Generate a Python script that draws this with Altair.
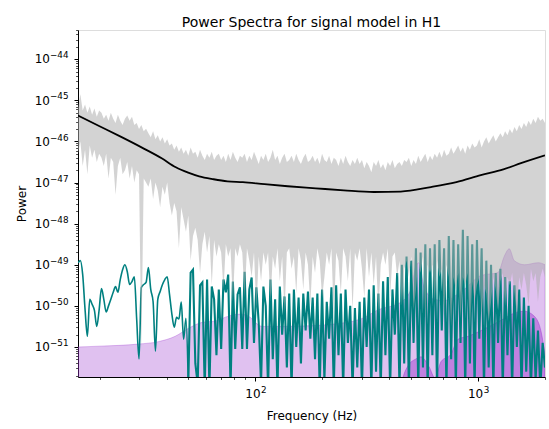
import altair as alt
import numpy as np
import pandas as pd

# ---------------- data (log10 of power, frequencies in Hz) ----------------
F_MIN, F_MAX = 16.0, 2000.0
N_BINS = 200

# measured periodogram (grey): upper and lower envelope per frequency bin
gray_upper = [
    -45.2, -44.85, -45.25, -45.1, -45.3, -45.15, -45.35, -45.2, -45.4, -45.25,
    -45.3, -45.45, -45.35, -45.5, -45.3, -45.45, -45.55, -45.35, -45.5, -45.6,
    -45.45, -45.37, -45.5, -45.4, -45.6, -45.55, -45.7, -45.6, -45.75, -45.69,
    -45.8, -45.9, -45.75, -45.95, -45.85, -46.0, -45.9, -46.05, -45.95, -46.1,
    -46.05, -46.2, -46.1, -46.25, -46.15, -46.3, -46.2, -46.35, -46.15, -46.3,
    -46.25, -46.4, -46.2, -46.35, -46.45, -46.3, -46.4, -46.25, -46.45, -46.35,
    -46.3, -46.45, -46.35, -46.5, -46.3, -46.45, -46.25, -46.4, -46.5, -46.35,
    -46.4, -46.3, -46.5, -46.35, -46.45, -46.25, -46.4, -46.55, -46.35, -46.45,
    -46.3, -46.5, -46.4, -46.2, -46.45, -46.35, -46.55, -46.4, -46.3, -46.5,
    -46.45, -46.35, -46.5, -46.3, -46.45, -46.55, -46.4, -46.3, -46.5, -46.45,
    -46.35, -46.5, -46.4, -46.55, -46.3, -46.45, -46.5, -46.35, -46.55, -46.4,
    -46.45, -46.6, -46.4, -46.55, -46.35, -46.5, -46.6, -46.45, -46.55, -46.4,
    -46.55, -46.45, -46.65, -46.5, -46.6, -46.75, -46.5, -46.6, -46.45, -46.65,
    -46.55, -46.7, -46.5, -46.6, -46.45, -46.65, -46.55, -46.5, -46.6, -46.45,
    -46.5, -46.4, -46.6, -46.45, -46.55, -46.35, -46.5, -46.4, -46.3, -46.5,
    -46.35, -46.45, -46.3, -46.4, -46.25, -46.4, -46.2, -46.35, -46.3, -46.15,
    -46.3, -46.2, -46.1, -46.25, -46.15, -46.3, -46.1, -46.2, -46.05, -46.15,
    -46.1, -45.95, -46.15, -46.0, -45.9, -46.05, -45.95, -45.85, -46.0, -45.9,
    -45.8, -45.9, -45.75, -45.85, -45.7, -45.8, -45.65, -45.75, -45.6, -45.7,
    -45.55, -45.65, -45.5, -45.6, -45.45, -45.55, -45.4, -45.5, -45.45, -45.55,
]
gray_lower = [
    -46.3, -46.0, -46.6, -46.2, -46.8, -46.1, -46.4, -46.2, -46.5, -46.3,
    -46.4, -46.6, -46.3, -46.9, -46.4, -46.5, -47.3, -46.6, -46.4, -46.8,
    -46.7, -46.5, -46.9, -46.6, -47.0, -46.7, -46.8, -51.05, -46.9, -47.0,
    -47.1, -46.9, -47.4, -47.0, -47.2, -47.6, -47.1, -47.3, -47.0, -47.5,
    -47.8, -47.5, -47.7, -48.6, -47.6, -47.9, -48.2, -47.8, -48.9, -48.3,
    -48.1, -48.4, -49.2, -48.5, -48.2, -48.7, -48.3, -49.5, -48.4, -48.8,
    -48.5, -48.7, -49.6, -48.5, -48.8, -48.6, -49.9, -48.6, -48.8, -48.5,
    -48.7, -49.8, -48.6, -48.9, -49.3, -48.7, -50.1, -48.8, -49.4, -48.7,
    -49.0, -48.7, -49.9, -48.8, -49.1, -48.6, -49.4, -48.8, -50.2, -48.7,
    -48.6, -49.1, -48.8, -49.7, -48.6, -48.9, -49.6, -48.7, -49.0, -50.0,
    -48.8, -49.2, -48.6, -48.9, -49.8, -49.3, -48.7, -49.0, -48.6, -50.3,
    -48.7, -48.9, -49.7, -48.6, -48.8, -49.4, -48.6, -50.1, -48.7, -48.9,
    -48.6, -49.1, -49.8, -48.6, -49.3, -48.7, -49.5, -48.8, -50.2, -49.0,
    -48.7, -49.0, -48.6, -49.8, -48.8, -48.7, -49.3, -48.9, -50.0, -49.1,
    -48.9, -49.3, -48.8, -50.1, -49.6, -48.9, -49.2, -48.8, -50.3, -49.0,
    -49.2, -49.0, -49.9, -48.9, -49.3, -49.1, -50.2, -49.0, -49.3, -50.5,
    -49.3, -49.6, -49.2, -50.3, -49.3, -49.5, -49.2, -50.6, -49.4, -49.9,
    -49.5, -49.3, -50.2, -49.5, -49.7, -50.4, -49.9, -49.3, -49.6, -50.1,
    -49.4, -49.2, -50.0, -49.3, -49.5, -49.2, -49.7, -50.2, -49.3, -49.6,
    -49.2, -49.5, -50.0, -49.1, -49.4, -49.2, -49.9, -49.3, -49.1, -49.3,
]

# signal model (teal), one value per frequency bin
teal_log10 = [
    -48.95, -48.9, -49.24, -50.08, -50.74, -49.84, -49.96, -50.11, -50.5, -50.1,
    -49.58, -49.84, -50.15, -50.0, -49.84, -49.67, -49.53, -49.67, -49.36, -49.12,
    -49.0, -49.17, -49.48, -49.41, -49.29, -50.32, -51.29, -49.55, -49.48, -49.43,
    -49.07, -49.6, -49.9, -51.1, -49.84, -49.65, -49.48, -49.36, -49.29, -49.72,
    -50.2, -50.52, -50.28, -50.32, -49.91, -50.81, -50.3, -51.9, -49.19, -49.12,
    -51.4, -51.9, -49.5, -49.43, -52.0, -49.36, -52.0, -49.53, -49.84, -51.2,
    -49.6, -51.05, -49.36, -49.67, -49.24, -52.0, -49.41, -51.05, -49.72, -49.55,
    -51.05, -49.17, -51.05, -49.6, -49.31, -50.9, -49.55, -50.4, -51.9, -49.53,
    -50.0, -52.0, -49.36, -51.3, -49.84, -52.0, -49.53, -50.7, -49.77, -51.5,
    -49.7, -52.0, -49.6, -51.0, -49.8, -51.4, -49.7, -50.6, -49.65, -50.8,
    -49.8, -51.3, -49.7, -52.0, -49.6, -51.8, -49.9, -50.8, -49.55, -52.0,
    -49.5, -51.2, -49.7, -52.0, -49.6, -50.9, -50.0, -52.0, -50.05, -51.5,
    -49.9, -52.0, -49.8, -51.0, -49.6, -52.0, -49.5, -51.6, -49.7, -52.0,
    -49.4, -51.2, -49.3, -52.0, -49.6, -50.7, -49.2, -52.0, -49.0, -51.4,
    -48.8, -52.0, -48.9, -50.9, -48.6, -52.0, -48.7, -51.5, -48.5, -52.0,
    -48.6, -51.2, -48.5, -52.0, -48.4, -50.6, -48.6, -52.0, -48.3, -51.3,
    -48.4, -52.0, -48.5, -50.9, -48.15, -52.0, -48.3, -51.4, -48.5, -52.0,
    -48.4, -50.8, -48.6, -52.0, -48.9, -51.5, -49.0, -52.0, -49.2, -50.9,
    -49.1, -52.0, -49.3, -51.2, -49.4, -52.0, -49.5, -51.0, -49.6, -52.0,
    -49.8, -51.6, -50.0, -52.0, -50.3, -51.8, -50.6, -52.0, -50.9, -51.5,
]
TEAL_SMOOTH_BINS = 48   # low-frequency part of the model is a smooth curve

psd_freq = [16, 20, 25, 31, 38, 44, 50, 56, 65, 75, 88, 110, 140, 187, 250,
            340, 450, 615, 800, 1030, 1300, 1560, 2000]
psd_log10 = [-45.37, -45.63, -45.89, -46.15, -46.41, -46.63, -46.76, -46.85,
             -46.92, -46.97, -46.99, -47.04, -47.09, -47.14, -47.19, -47.23,
             -47.22, -47.11, -46.99, -46.82, -46.68, -46.53, -46.34]

band_freq = [16, 20, 29.8, 36.7, 43.7, 50, 57.9, 66.2, 75.7, 85.8, 95.1, 100,
             107.7, 123.3, 160, 218, 298, 355, 451, 500, 526, 543, 572, 634,
             703, 866, 1033, 1230, 1316, 1382, 1456, 1620, 1869, 2000]
band_log10 = [-51.0, -50.98, -50.93, -50.87, -50.74, -50.55, -50.40, -50.37,
              -50.25, -50.2, -50.28, -50.4, -50.5, -50.5, -50.49, -50.45,
              -50.32, -50.1, -49.91, -49.6, -49.04, -48.95, -49.53, -49.84,
              -49.87, -49.6, -49.26, -49.19, -48.78, -48.61, -48.9, -49.0,
              -48.95, -49.0]

core_freq = [440, 451, 485, 527, 555, 603, 641, 682, 757, 814, 903, 1033,
             1271, 1485, 1613, 1789, 1923, 2000]
core_log10 = [-52.5, -52.0, -51.46, -51.29, -51.24, -51.48, -51.75, -51.36,
              -51.17, -50.81, -50.74, -50.6, -50.35, -50.16, -50.13, -50.25,
              -50.64, -51.2]

# tick labels  (10 with a raised exponent)
x_label_freq = [100, 1000]
x_label_exp = ["2", "3"]
y_label_pos = [-44, -45, -46, -47, -48, -49, -50, -51]
y_label_exp = ["−44", "−45", "−46", "−47", "−48", "−49", "−50", "−51"]

Y_MIN, Y_MAX = -51.73, -43.29
FILL_BASE = -53.0

# ---------------- frames ----------------
freq = np.geomspace(F_MIN, F_MAX, N_BINS)
lf = np.log10(freq)
df_gray = pd.DataFrame({"lf": lf, "lp": gray_upper, "lo": gray_lower})
df_teal = pd.DataFrame({"lf": lf, "lp": teal_log10})
df_teal_lo = df_teal.iloc[:TEAL_SMOOTH_BINS]
df_teal_hi = df_teal.iloc[TEAL_SMOOTH_BINS - 1:]
df_psd = pd.DataFrame({"lf": np.log10(psd_freq), "lp": psd_log10})
df_band = pd.DataFrame({"lf": np.log10(band_freq), "lp": band_log10})
df_core = pd.DataFrame({"lf": np.log10(core_freq), "lp": core_log10})
df_xlab = pd.DataFrame({"lf": np.log10(x_label_freq), "base": "10", "exp": x_label_exp})
df_ylab = pd.DataFrame({"lp": y_label_pos, "base": "10", "exp": y_label_exp})

# tick positions (major decades + minor 2..9)
x_ticks = []
for n in (1, 2, 3):
    for k in range(1, 10):
        f = k * 10 ** n
        if F_MIN <= f <= F_MAX:
            x_ticks.append(float(np.log10(f)))
y_ticks = []
for n in range(-52, -43):
    for k in range(1, 10):
        v = n + float(np.log10(k))
        if Y_MIN <= v <= Y_MAX:
            y_ticks.append(v)

MAJOR = "abs(datum.value - round(datum.value)) < 0.001"
FONT = "DejaVu Sans"

tick_size = {"condition": {"test": MAJOR, "value": 4}, "value": 2.4}
tick_width = {"condition": {"test": MAJOR, "value": 1}, "value": 0.7}

x_axis = alt.Axis(values=x_ticks, labels=False, tickSize=tick_size, tickWidth=tick_width,
                  tickColor="black", domainColor="black", domainWidth=1, grid=False,
                  title="Frequency (Hz)", titleFont=FONT, titleFontSize=12,
                  titleFontWeight="normal", titleColor="black",
                  titleBaseline="alphabetic", titleY=42)
y_axis = alt.Axis(values=y_ticks, labels=False, tickSize=tick_size, tickWidth=tick_width,
                  tickColor="black", domainColor="black", domainWidth=1, grid=False,
                  title="Power", titleFont=FONT, titleFontSize=12,
                  titleFontWeight="normal", titleColor="black",
                  titleBaseline="alphabetic", titleX=-52.5, titleAngle=-90)

X = alt.X("lf:Q", scale=alt.Scale(domain=[float(np.log10(F_MIN)), float(np.log10(F_MAX))],
                                   nice=False, zero=False), axis=x_axis)
Y = alt.Y("lp:Q", scale=alt.Scale(domain=[Y_MIN, Y_MAX], nice=False, zero=False), axis=y_axis)

ORCHID = "#9932cc"

band = alt.Chart(df_band).mark_area(
    clip=True, interpolate="monotone", fill=ORCHID, fillOpacity=0.3,
    stroke=ORCHID, strokeOpacity=0.3, strokeWidth=1
).encode(x=X, y=Y, y2=alt.datum(FILL_BASE))

core = alt.Chart(df_core).mark_area(
    clip=True, interpolate="monotone", fill=ORCHID, fillOpacity=0.45,
    stroke=ORCHID, strokeOpacity=0.45, strokeWidth=1
).encode(x=X, y=Y, y2=alt.datum(FILL_BASE))

teal_lo = alt.Chart(df_teal_lo).mark_line(
    clip=True, color="teal", strokeWidth=1.6, interpolate="monotone").encode(x=X, y=Y)
teal_hi = alt.Chart(df_teal_hi).mark_line(
    clip=True, color="teal", strokeWidth=2.1).encode(x=X, y=Y)

gray = alt.Chart(df_gray).mark_area(
    clip=True, fill="#ababab", fillOpacity=0.53
).encode(x=X, y=Y, y2="lo:Q")

psd = alt.Chart(df_psd).mark_line(clip=True, color="black", strokeWidth=1.8,
                                  interpolate="monotone").encode(x=X, y=Y)

# tick labels drawn as text: "10" plus a smaller raised exponent
PLOT_H = 347
ylab_base = alt.Chart(df_ylab).mark_text(
    align="right", baseline="alphabetic", dy=4.3, font=FONT, fontSize=12, color="black"
).encode(x=alt.value(-28), y=Y, text="base:N")
ylab_exp = alt.Chart(df_ylab).mark_text(
    align="right", baseline="alphabetic", dy=-0.9, font=FONT, fontSize=8.8, color="black"
).encode(x=alt.value(-9.5), y=Y, text="exp:N")
xlab_base = alt.Chart(df_xlab).mark_text(
    align="right", baseline="alphabetic", dx=5.3, font=FONT, fontSize=12, color="black"
).encode(x=X, y=alt.value(PLOT_H + 21), text="base:N")
xlab_exp = alt.Chart(df_xlab).mark_text(
    align="left", baseline="alphabetic", dx=5.8, font=FONT, fontSize=8.8, color="black"
).encode(x=X, y=alt.value(PLOT_H + 16), text="exp:N")

chart = alt.layer(band, core, teal_lo, teal_hi, gray, psd,
                  ylab_base, ylab_exp, xlab_base, xlab_exp).properties(
    width=467, height=PLOT_H,
    autosize=alt.AutoSizeParams(type="none"),
    padding={"left": 78, "top": 30, "right": 4, "bottom": 52},
    title=alt.TitleParams("Power Spectra for signal model in H1", font=FONT, fontSize=14,
                          fontWeight="normal", color="black", anchor="middle",
                          frame="group", baseline="alphabetic", offset=8.5, dy=20),
).configure_view(stroke="black", strokeWidth=1).configure(background="white")

chart.save("out.html", embed_options={"renderer": "svg", "actions": False})
